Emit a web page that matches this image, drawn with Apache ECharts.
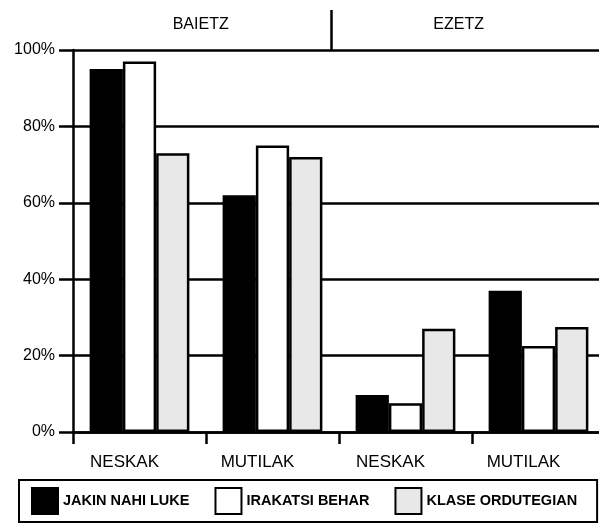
<!DOCTYPE html>
<html>
<head>
<meta charset="utf-8">
<script src="https://cdn.jsdelivr.net/npm/echarts@6/dist/echarts.min.js"></script>
<style>
	html, body { margin: 0; padding: 0; background: #fff; }
	#chart { width: 599px; height: 525px; }
</style>
</head>
<body>
<div id="chart"></div>
<script>
// taldeak eta kategoriak
const groupNames = ['BAIETZ', 'EZETZ'];
const categories = ['NESKAK', 'MUTILAK', 'NESKAK', 'MUTILAK'];
const seriesNames = ['JAKIN NAHI LUKE', 'IRAKATSI BEHAR', 'KLASE ORDUTEGIAN'];
// balioak (%)
const jakinNahi = [95, 62, 9.7, 37];
const irakatsi = [97, 75, 7.5, 22.5];
const klase = [73, 72, 27, 27.5];
const yTicks = [0, 20, 40, 60, 80, 100];

const FONT = '"Liberation Sans", Arial, sans-serif';
const INK = '#000';

const chart = echarts.init(document.getElementById('chart'));

function barSeries(name, data, color) {
	return {
		name: name,
		type: 'bar',
		data: data,
		barGap: '0%',
		barCategoryGap: '25%',
		itemStyle: {
			color: color,
			borderColor: INK,
			borderWidth: 2.5,
		},
	};
}

chart.setOption({
	animation: false,
	backgroundColor: '#fff',
	grid: { left: 73, right: -6, top: 50, bottom: 93, outerBoundsMode: 'none' },
	xAxis: [
		{
			type: 'category',
			data: categories,
			position: 'bottom',
			axisLine: { lineStyle: { color: INK, width: 2.5 } },
			axisTick: { show: true, length: 12, lineStyle: { color: INK, width: 2.5 } },
			axisLabel: {
				color: INK,
				fontSize: 17,
				fontFamily: FONT,
				margin: 22,
				padding: [0, 30, 0, 0],
			},
		},
		{
			// goiko taldeak
			type: 'value',
			position: 'top',
			min: 0,
			max: 2,
			axisLine: { show: false },
			splitLine: { show: false },
			axisTick: {
				show: true,
				customValues: [0.97],
				length: 40,
				lineStyle: { color: INK, width: 2.5 },
			},
			axisLabel: {
				color: INK,
				fontSize: 16,
				fontFamily: FONT,
				margin: 17,
				customValues: [0.48, 1.45],
				formatter: function (v) {
					return v < 1 ? groupNames[0] : groupNames[1];
				},
			},
		},
	],
	yAxis: {
		type: 'value',
		min: yTicks[0],
		max: yTicks[yTicks.length - 1],
		interval: 20,
		axisLine: { show: true, lineStyle: { color: INK, width: 2.5 } },
		axisTick: { show: true, length: 14, lineStyle: { color: INK, width: 2.5 } },
		axisLabel: {
			color: INK,
			fontSize: 16,
			fontFamily: FONT,
			margin: 18,
			formatter: '{value}%',
		},
		splitLine: { show: true, lineStyle: { color: INK, width: 2.5 } },
	},
	legend: {
		left: 19,
		top: 480,
		width: 560,
		orient: 'horizontal',
		icon: 'rect',
		itemWidth: 26,
		itemHeight: 26,
		itemGap: 25,
		padding: [7, 20, 7, 12],
		borderColor: INK,
		borderWidth: 2,
		textStyle: { color: INK, fontSize: 14.5, fontFamily: FONT, fontWeight: 'bold' },
		data: seriesNames,
	},
	series: [
		barSeries(seriesNames[0], jakinNahi, '#000'),
		barSeries(seriesNames[1], irakatsi, '#fff'),
		barSeries(seriesNames[2], klase, '#e8e8e8'),
	],
});
</script>
</body>
</html>
